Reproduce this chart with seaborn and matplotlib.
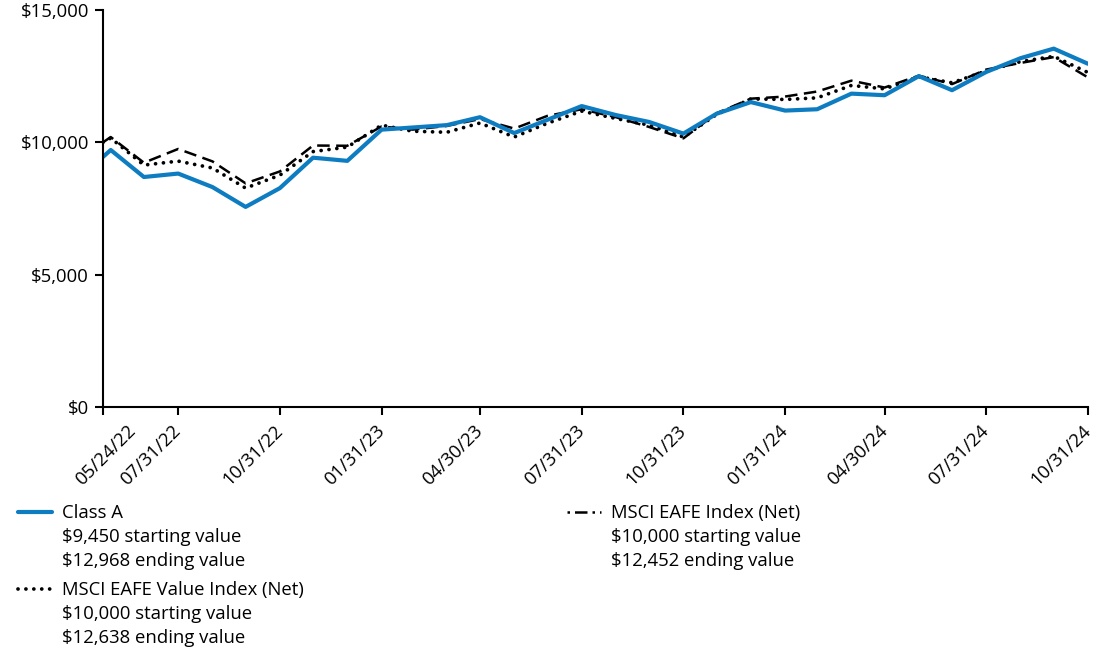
import pandas as pd
import matplotlib.pyplot as plt
import matplotlib.ticker as mticker
import matplotlib.dates as mdates
import matplotlib.transforms as mtransforms
from matplotlib.lines import Line2D
import seaborn as sns

sns.set_theme(style="white")
plt.rcParams["font.family"] = ["Open Sans", "DejaVu Sans"]

dates = [
    "2022-05-24", "2022-05-31", "2022-06-30", "2022-07-31", "2022-08-31",
    "2022-09-30", "2022-10-31", "2022-11-30", "2022-12-31", "2023-01-31",
    "2023-02-28", "2023-03-31", "2023-04-30", "2023-05-31", "2023-06-30",
    "2023-07-31", "2023-08-31", "2023-09-30", "2023-10-31", "2023-11-30",
    "2023-12-31", "2024-01-31", "2024-02-29", "2024-03-31", "2024-04-30",
    "2024-05-31", "2024-06-30", "2024-07-31", "2024-08-31", "2024-09-30",
    "2024-10-31",
]
class_a = [9450, 9710, 8690, 8820, 8310, 7560, 8270, 9420, 9300, 10480,
           10560, 10650, 10950, 10350, 10850, 11370, 11030, 10770, 10330, 11080,
           11520, 11200, 11250, 11840, 11780, 12500, 11970, 12660, 13180, 13540,
           12968]
eafe_value = [10000, 10160, 9140, 9290, 9030, 8270, 8760, 9650, 9820, 10650,
              10420, 10380, 10730, 10200, 10720, 11180, 10900, 10650, 10200, 11050,
              11640, 11620, 11680, 12150, 12020, 12480, 12250, 12700, 13050, 13250,
              12638]
eafe = [10000, 10200, 9230, 9750, 9280, 8450, 8900, 9880, 9870, 10600,
        10480, 10620, 10880, 10520, 11000, 11250, 10950, 10580, 10150, 11100,
        11650, 11730, 11920, 12330, 12070, 12520, 12200, 12750, 13000, 13220,
        12452]
tick_dates = ["2022-05-24", "2022-07-31", "2022-10-31", "2023-01-31", "2023-04-30",
              "2023-07-31", "2023-10-31", "2024-01-31", "2024-04-30", "2024-07-31",
              "2024-10-31"]

df = pd.DataFrame({"date": pd.to_datetime(dates), "class_a": class_a,
                   "eafe_value": eafe_value, "eafe": eafe})

blue = "#0E7CC1"
fs = 13.3
dot_lw = 2.7
dot_style = (0, (0.01, 2.1))

fig = plt.figure(figsize=(11, 6.53), dpi=100)
ax = fig.add_axes([103 / 1100, 1 - 407 / 653, 985 / 1100, 397 / 653])

sns.lineplot(data=df, x="date", y="eafe", ax=ax, color="black", lw=1.8,
             linestyle=(0, (5, 2.6)))
sns.lineplot(data=df, x="date", y="eafe_value", ax=ax, color="black", lw=dot_lw,
             linestyle=dot_style, dash_capstyle="round")
sns.lineplot(data=df, x="date", y="class_a", ax=ax, color=blue, lw=3)

ax.set_xlim(pd.Timestamp(dates[0]), pd.Timestamp(dates[-1]))
ax.set_ylim(0, 15000)
ax.set_yticks([0, 5000, 10000, 15000])
ax.yaxis.set_major_formatter(mticker.FuncFormatter(lambda v, p: f"${v:,.0f}"))
ax.set_xticks(pd.to_datetime(tick_dates))
ax.xaxis.set_major_formatter(mdates.DateFormatter("%m/%d/%y"))
ax.set_xlabel("")
ax.set_ylabel("")

for s in ["top", "right"]:
    ax.spines[s].set_visible(False)
for s in ["left", "bottom"]:
    ax.spines[s].set_color("black")
    ax.spines[s].set_linewidth(1.5)
ax.tick_params(axis="both", which="major", direction="out", length=6, width=1.5,
               color="black", labelsize=fs, labelcolor="black",
               left=True, bottom=True)
ax.tick_params(axis="y", pad=4)
ax.tick_params(axis="x", pad=9)
ax.grid(False)

xlabels = ax.get_xticklabels()
plt.setp(xlabels, rotation=45, ha="right", va="center", rotation_mode="anchor")
# first date label sits a bit to the right in the original
xlabels[0].set_transform(xlabels[0].get_transform()
                         + mtransforms.ScaledTranslation(0.30, 0, fig.dpi_scale_trans))

# legend below the plot
blank = Line2D([], [], linestyle="none")
groups = [
    (Line2D([], [], color=blue, lw=3),
     ["Class A", "$9,450 starting value", "$12,968 ending value"], (18, 504)),
    (Line2D([], [], color="black", lw=dot_lw, linestyle=dot_style,
            dash_capstyle="round"),
     ["MSCI EAFE Value Index (Net)", "$10,000 starting value", "$12,638 ending value"],
     (18, 581)),
    (Line2D([], [], color="black", lw=1.8, linestyle=(0, (1, 2, 5, 2))),
     ["MSCI EAFE Index (Net)", "$10,000 starting value", "$12,452 ending value"],
     (567, 504)),
]
for handle, labels, (px, py) in groups:
    leg = fig.legend([handle, blank, blank], labels, loc="upper left",
                     bbox_to_anchor=(px / 1100, 1 - py / 653), frameon=False,
                     fontsize=fs, handlelength=1.85, handletextpad=0.55,
                     labelspacing=0.33, borderpad=0, borderaxespad=0)
    for t in leg.get_texts():
        t.set_color("black")

fig.savefig("out.png", dpi=100)
